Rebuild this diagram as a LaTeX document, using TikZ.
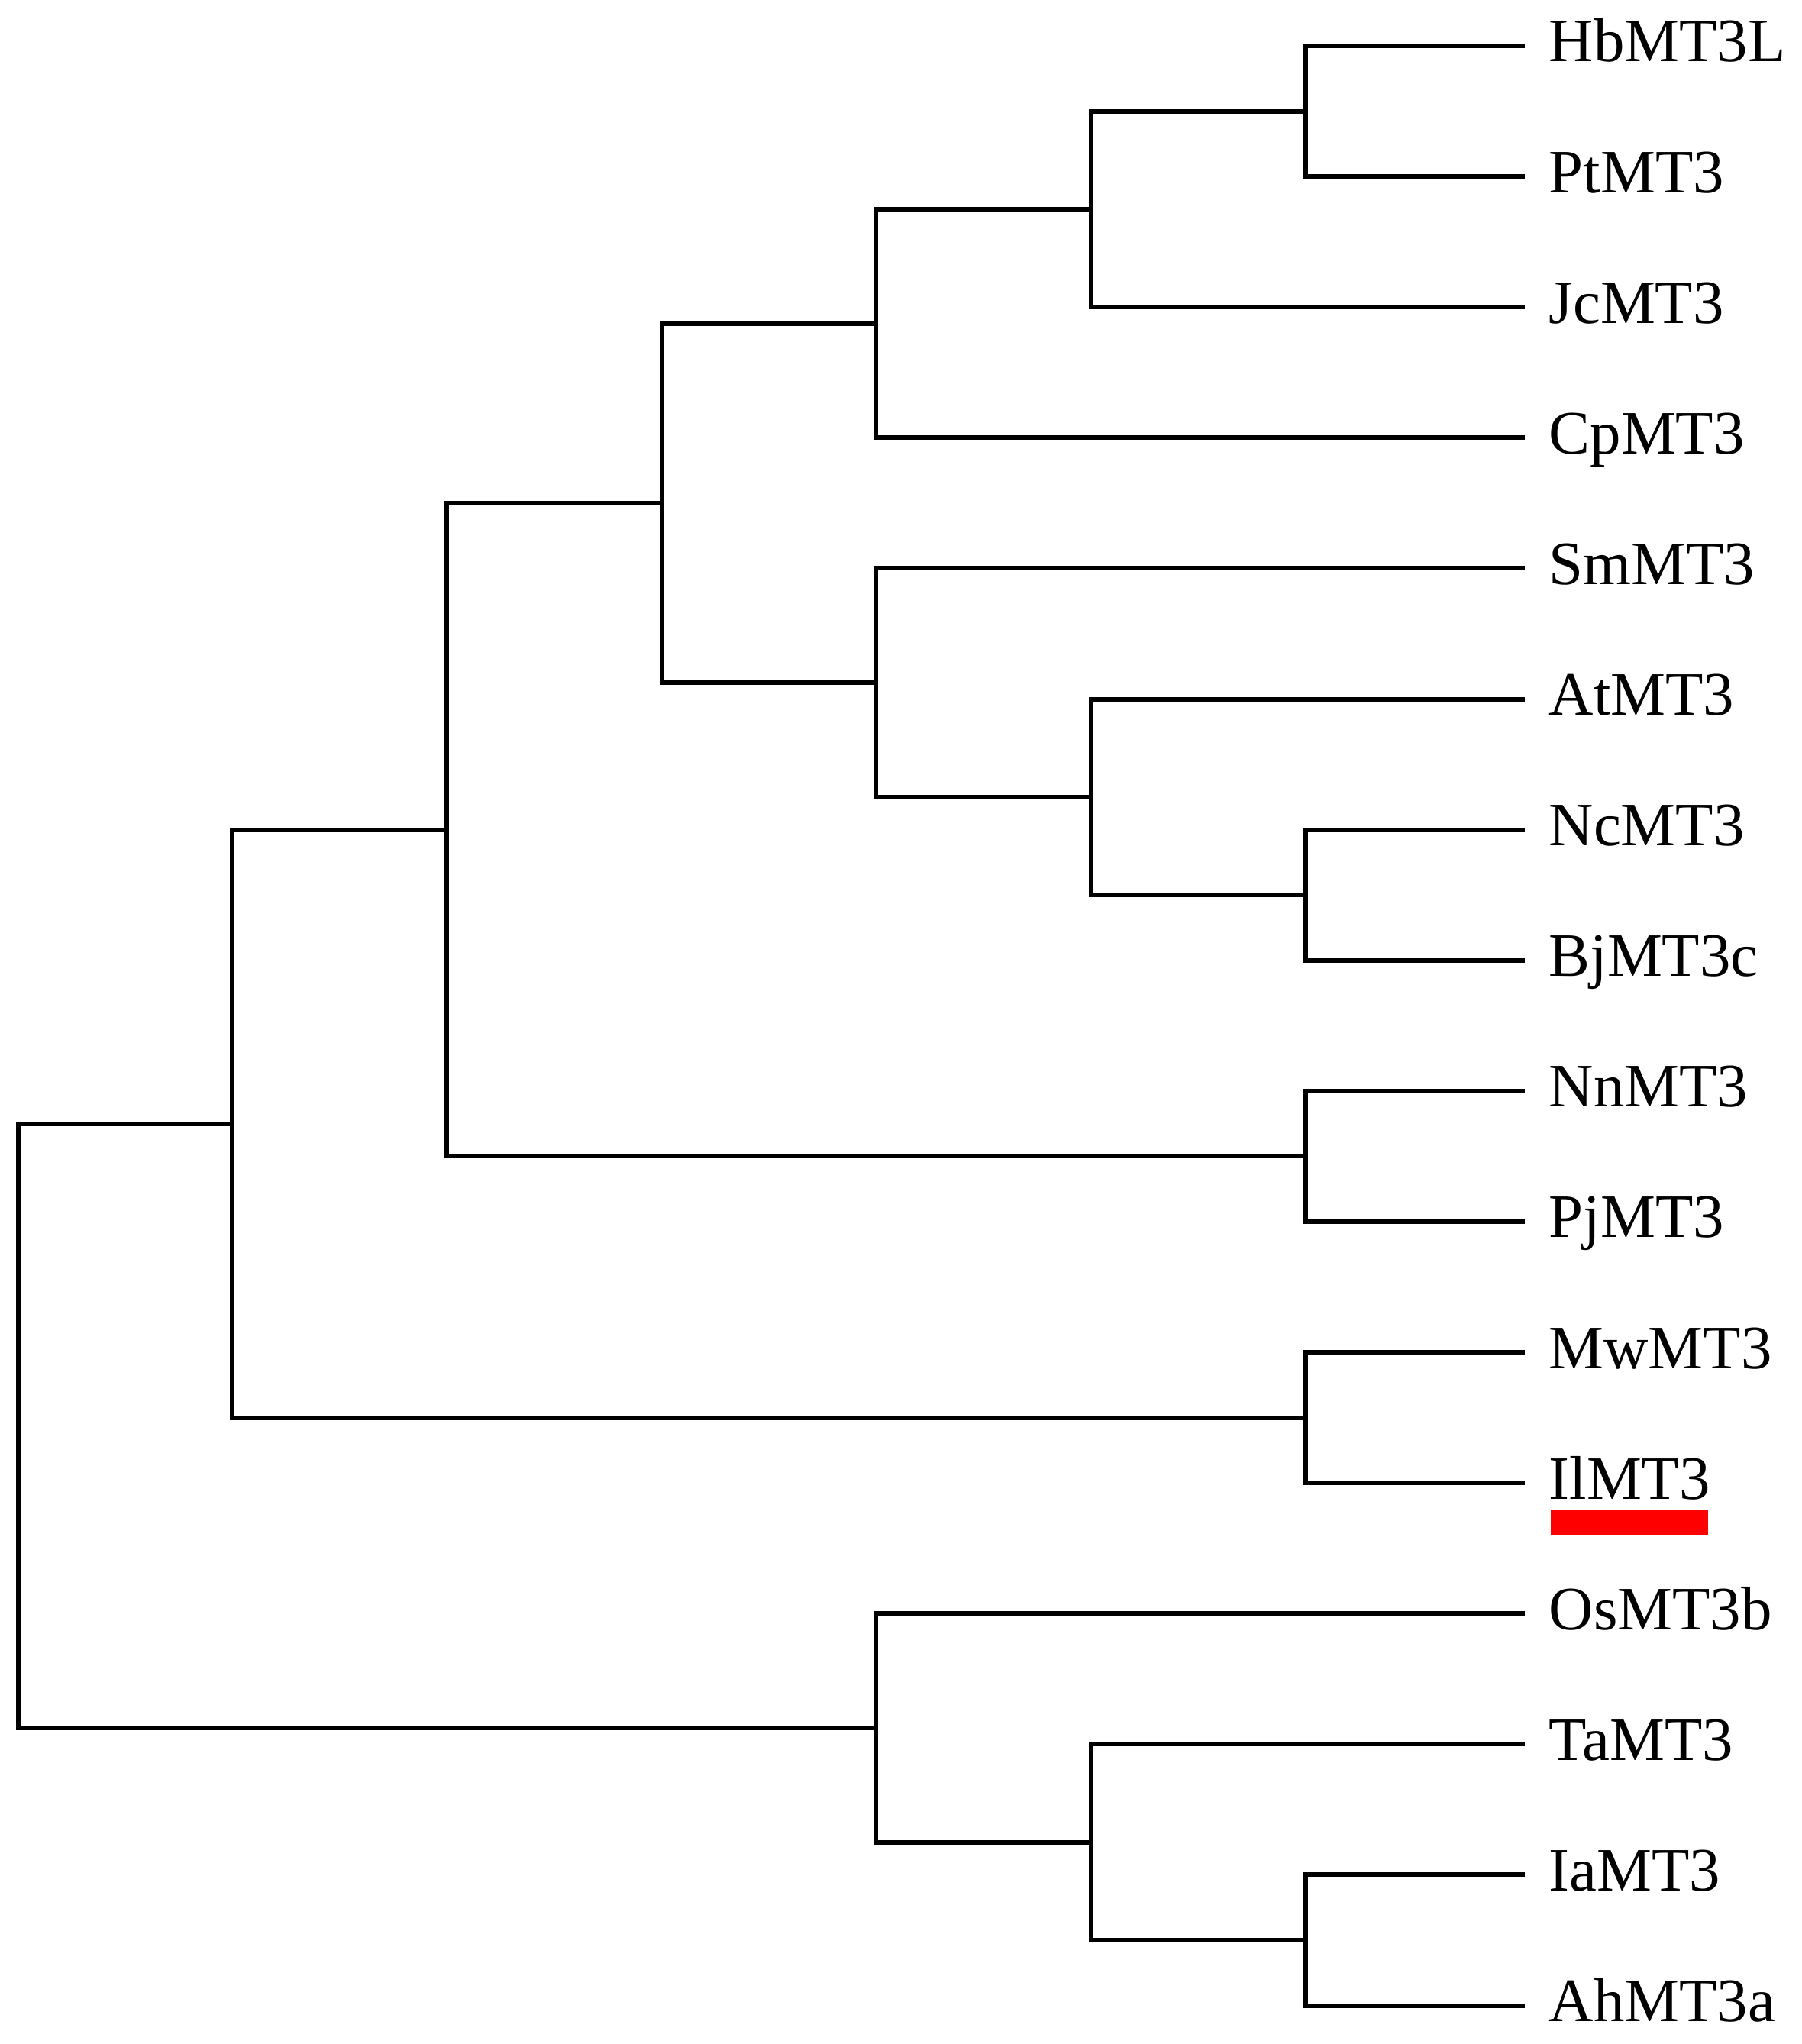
\documentclass[tikz,border=0pt]{standalone}
\usepackage{fontspec}
\setmainfont{Liberation Serif}
\begin{document}
\begin{tikzpicture}[
  branch/.style={line width=0.06cm, line cap=rect, line join=miter, black},
  leaf/.style={anchor=west, inner ysep=0pt, inner xsep=0.34cm, text height=0.56cm, text depth=0.14cm,
               font=\fontsize{23pt}{26pt}\selectfont}
]
\useasboundingbox (0,0) rectangle (23.59,-26.77);
% leaves
\node[leaf] (HbMT3L) at (19.94,-0.600) {HbMT3L};
\node[leaf] (PtMT3)  at (19.94,-2.311) {PtMT3};
\node[leaf] (JcMT3)  at (19.94,-4.022) {JcMT3};
\node[leaf] (CpMT3)  at (19.94,-5.733) {CpMT3};
\node[leaf] (SmMT3)  at (19.94,-7.444) {SmMT3};
\node[leaf] (AtMT3)  at (19.94,-9.155) {AtMT3};
\node[leaf] (NcMT3)  at (19.94,-10.866) {NcMT3};
\node[leaf] (BjMT3c) at (19.94,-12.577) {BjMT3c};
\node[leaf] (NnMT3)  at (19.94,-14.288) {NnMT3};
\node[leaf] (PjMT3)  at (19.94,-15.999) {PjMT3};
\node[leaf] (MwMT3)  at (19.94,-17.710) {MwMT3};
\node[leaf] (IlMT3)  at (19.94,-19.421) {IlMT3};
\node[leaf] (OsMT3b) at (19.94,-21.132) {OsMT3b};
\node[leaf] (TaMT3)  at (19.94,-22.843) {TaMT3};
\node[leaf] (IaMT3)  at (19.94,-24.554) {IaMT3};
\node[leaf] (AhMT3a) at (19.94,-26.265) {AhMT3a};
% highlight under IlMT3
\fill[red] (20.31,-19.78) rectangle (22.37,-20.10);
% internal nodes
\coordinate (n7a) at (17.10,-1.456);
\coordinate (n6a) at (14.29,-2.739);
\coordinate (n5a) at (11.47,-4.236);
\coordinate (n7b) at (17.10,-11.722);
\coordinate (n6b) at (14.29,-10.438);
\coordinate (n5b) at (11.47,-8.941);
\coordinate (n4)  at (8.67,-6.589);
\coordinate (n7c) at (17.10,-15.144);
\coordinate (n3)  at (5.85,-10.866);
\coordinate (n7d) at (17.10,-18.566);
\coordinate (n2)  at (3.04,-14.716);
\coordinate (n7e) at (17.10,-25.410);
\coordinate (n6e) at (14.29,-24.126);
\coordinate (n5e) at (11.47,-22.629);
\coordinate (root) at (0.24,-18.673);
% branches
\begin{scope}[branch]
\draw (n7a) |- (HbMT3L.west);
\draw (n7a) |- (PtMT3.west);
\draw (n6a) |- (n7a);
\draw (n6a) |- (JcMT3.west);
\draw (n5a) |- (n6a);
\draw (n5a) |- (CpMT3.west);
\draw (n7b) |- (NcMT3.west);
\draw (n7b) |- (BjMT3c.west);
\draw (n6b) |- (AtMT3.west);
\draw (n6b) |- (n7b);
\draw (n5b) |- (SmMT3.west);
\draw (n5b) |- (n6b);
\draw (n4) |- (n5a);
\draw (n4) |- (n5b);
\draw (n7c) |- (NnMT3.west);
\draw (n7c) |- (PjMT3.west);
\draw (n3) |- (n4);
\draw (n3) |- (n7c);
\draw (n7d) |- (MwMT3.west);
\draw (n7d) |- (IlMT3.west);
\draw (n2) |- (n3);
\draw (n2) |- (n7d);
\draw (n7e) |- (IaMT3.west);
\draw (n7e) |- (AhMT3a.west);
\draw (n6e) |- (TaMT3.west);
\draw (n6e) |- (n7e);
\draw (n5e) |- (OsMT3b.west);
\draw (n5e) |- (n6e);
\draw (root) |- (n2);
\draw (root) |- (n5e);
\end{scope}
\end{tikzpicture}
\end{document}
